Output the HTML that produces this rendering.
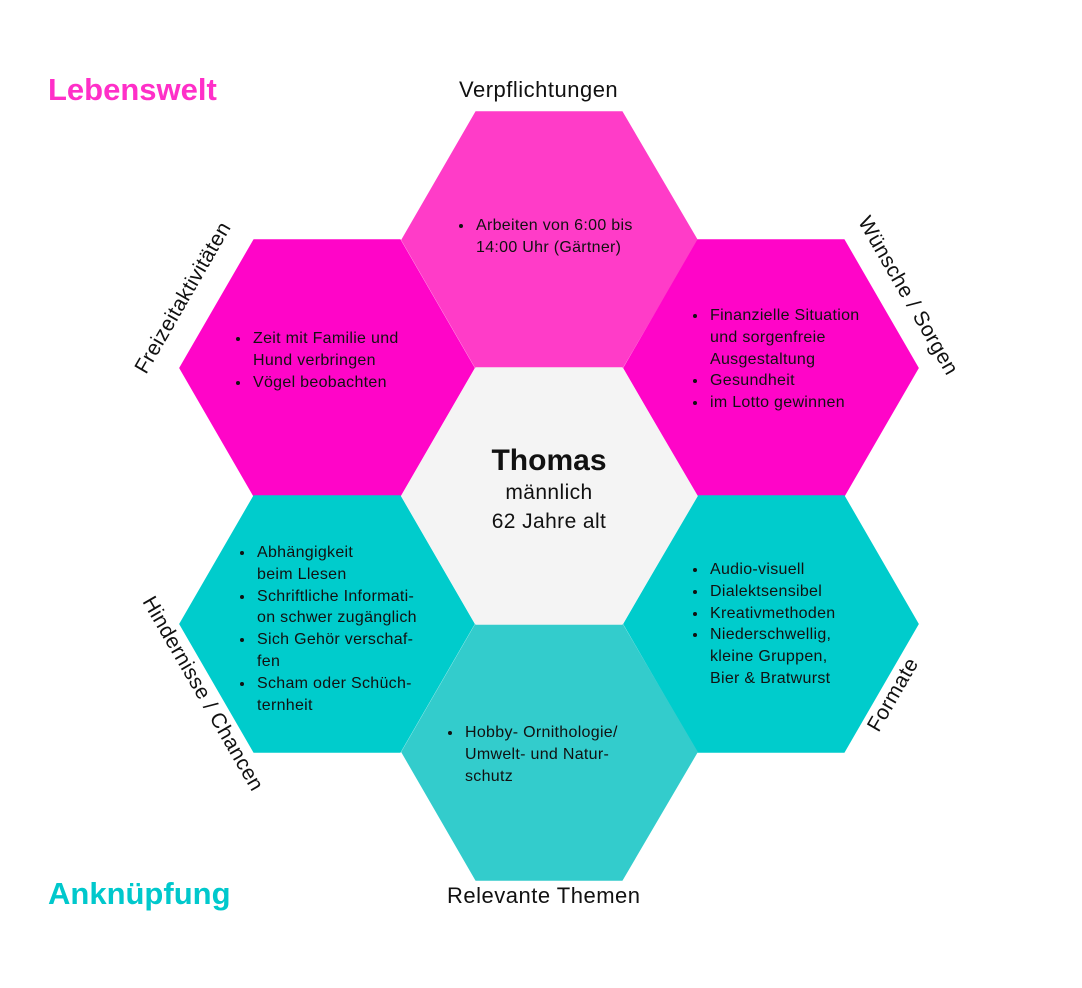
<!DOCTYPE html>
<html><head><meta charset="utf-8"><style>
body{margin:0;width:1082px;height:988px;background:#fff;position:relative;overflow:hidden;font-family:"Liberation Sans",sans-serif;color:#111}
.a{position:absolute}
ul{margin:0;padding:0 0 0 22px;font-size:16px;line-height:21.8px;white-space:nowrap;letter-spacing:0.3px}
li{padding-left:2px}
.lab{font-size:22px;white-space:nowrap;letter-spacing:0.5px}
.rot{position:absolute;font-size:21px;white-space:nowrap;transform-origin:center center;letter-spacing:0.4px}
</style></head><body>
<svg class="a" style="left:0;top:0" width="1082" height="988">
<g stroke-width="1.5">
<polygon points="476,112 622,112 697,240 622,368 476,368 402,240" fill="#FF3CC8" stroke="#FF3CC8"/>
<polygon points="254,240 400,240 474,368 400,496 254,496 180,368" fill="#FF05C8" stroke="#FF05C8"/>
<polygon points="698,240 844,240 918,368 844,496 698,496 624,368" fill="#FF05C8" stroke="#FF05C8"/>
<polygon points="254,496 400,496 474,624 400,752 254,752 180,624" fill="#00CCCC" stroke="#00CCCC"/>
<polygon points="698,496 844,496 918,624 844,752 698,752 624,624" fill="#00CCCC" stroke="#00CCCC"/>
<polygon points="476,624 622,624 697,752 622,880 476,880 402,752" fill="#33CCCC" stroke="#33CCCC"/>
<polygon points="476,368 622,368 697,496 622,624 476,624 402,496" fill="#F4F4F4" stroke="#F4F4F4"/>
</g>
</svg>
<div class="a" style="left:48px;top:72px;font-size:31px;font-weight:bold;color:#FF2FC8">Lebenswelt</div>
<div class="a" style="left:48px;top:876px;font-size:31px;font-weight:bold;color:#00C8CC">Anknüpfung</div>
<div class="a lab" style="left:459px;top:77px">Verpflichtungen</div>
<div class="a lab" style="left:447px;top:883px">Relevante Themen</div>
<div class="rot" style="left:98px;top:286px;transform:rotate(-60deg)">Freizeitaktivitäten</div>
<div class="rot" style="left:818px;top:284px;transform:rotate(60deg)">Wünsche / Sorgen</div>
<div class="rot" style="left:92px;top:682px;transform:rotate(60deg)">Hindernisse / Chancen</div>
<div class="rot" style="left:853px;top:683px;transform:rotate(-60deg)">Formate</div>
<div class="a" style="left:452px;top:215px"><ul><li>Arbeiten von 6:00 bis<br>14:00 Uhr (Gärtner)</li></ul></div>
<div class="a" style="left:229px;top:328px"><ul><li>Zeit mit Familie und<br>Hund verbringen</li><li>Vögel beobachten</li></ul></div>
<div class="a" style="left:686px;top:305px"><ul><li>Finanzielle Situation<br>und sorgenfreie<br>Ausgestaltung</li><li>Gesundheit</li><li>im Lotto gewinnen</li></ul></div>
<div class="a" style="left:233px;top:542px"><ul><li>Abhängigkeit<br>beim Llesen</li><li>Schriftliche Informati-<br>on schwer zugänglich</li><li>Sich Gehör verschaf-<br>fen</li><li>Scham oder Schüch-<br>ternheit</li></ul></div>
<div class="a" style="left:686px;top:559px"><ul><li>Audio-visuell</li><li>Dialektsensibel</li><li>Kreativmethoden</li><li>Niederschwellig,<br>kleine Gruppen,<br>Bier &amp; Bratwurst</li></ul></div>
<div class="a" style="left:441px;top:722px"><ul><li>Hobby- Ornithologie/<br>Umwelt- und Natur-<br>schutz</li></ul></div>
<div class="a" style="left:439px;top:444px;width:220px;text-align:center;font-size:21px;line-height:29px;letter-spacing:0.4px"><div style="font-size:30px;font-weight:bold;line-height:34px;letter-spacing:0">Thomas</div>männlich<br>62 Jahre alt</div>
</body></html>
